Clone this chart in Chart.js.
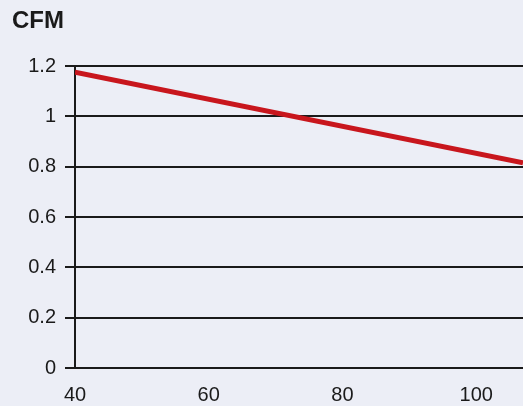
<!DOCTYPE html>
<html>
<head>
<meta charset="utf-8">
<script src="https://cdn.jsdelivr.net/npm/chart.js@4"></script>
<style>
  html, body { margin: 0; padding: 0; background: #eceef6; }
  #wrap { width: 523px; height: 406px; }
</style>
</head>
<body>
<div id="wrap"><canvas id="graficoCfm"></canvas></div>
<script>
// dados do gráfico
const temperaturas = [40, 107];
const valoresCfm = [1.175, 0.815];
const ticksX = [40, 60, 80, 100];
const tituloEixo = 'CFM';

const fonte = "'Liberation Sans', Arial, sans-serif";

// titulo "CFM" no canto superior esquerdo
const pluginTitulo = {
    id: 'tituloCfm',
    afterDraw(chart) {
        const ctx = chart.ctx;
        ctx.save();
        ctx.font = 'bold 24px ' + fonte;
        ctx.fillStyle = '#1a1a1a';
        ctx.textBaseline = 'alphabetic';
        ctx.fillText(tituloEixo, 12, 28);
        ctx.restore();
    }
};

const ctxCfm = document.getElementById('graficoCfm').getContext('2d');
const graficoCfm = new Chart(ctxCfm, {
    type: 'line',
    data: {
        datasets: [{
            label: tituloEixo,
            data: temperaturas.map((t, i) => ({ x: t, y: valoresCfm[i] })),
            borderColor: '#c8161d',
            borderWidth: 5,
            pointRadius: 0,
            fill: false
        }]
    },
    options: {
        responsive: true,
        maintainAspectRatio: false,
        animation: false,
        layout: { padding: { top: 66, right: 0, bottom: 0, left: 0 } },
        plugins: {
            legend: { display: false },
            title: { display: false },
            tooltip: { enabled: false }
        },
        scales: {
            x: {
                type: 'linear',
                min: 40,
                max: 107,
                afterBuildTicks(scale) {
                    scale.ticks = ticksX.map(v => ({ value: v }));
                },
                afterFit(scale) { scale.height = 38; },
                grid: { display: false, drawTicks: false },
                border: { display: true, color: '#1a1a1a', width: 2 },
                ticks: {
                    padding: 15,
                    maxRotation: 0,
                    color: '#1a1a1a',
                    font: { family: fonte, size: 20 }
                }
            },
            y: {
                min: 0,
                max: 1.2,
                afterFit(scale) { scale.width = 75; },
                grid: { color: '#1a1a1a', lineWidth: 2, tickLength: 10 },
                border: { display: true, color: '#1a1a1a', width: 2 },
                ticks: {
                    stepSize: 0.2,
                    padding: 9,
                    color: '#1a1a1a',
                    font: { family: fonte, size: 20 },
                    callback: v => String(Math.round(v * 10) / 10)
                }
            }
        }
    },
    plugins: [pluginTitulo]
});
</script>
</body>
</html>
